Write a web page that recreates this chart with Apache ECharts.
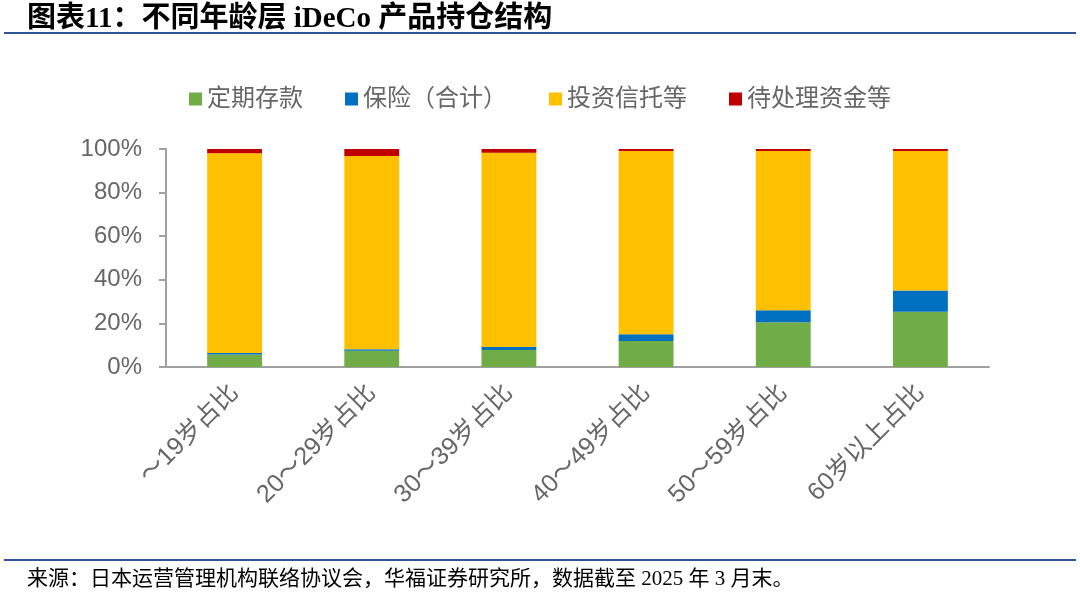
<!DOCTYPE html>
<html>
<head>
<meta charset="utf-8">
<script src="https://cdn.jsdelivr.net/npm/echarts@6/dist/echarts.min.js"></script>
<style>
  html, body { margin: 0; padding: 0; background: #fff; }
  #myChart { width: 1080px; height: 592px; }
</style>
</head>
<body>
<div id="myChart"></div>
<script>
// 年龄层
var categories = ['～19岁占比', '20～29岁占比', '30～39岁占比', '40～49岁占比', '50～59岁占比', '60岁以上占比'];
// 各产品占比（%）
var deposit = [5.7, 7.4, 7.8, 11.9, 20.5, 25.4];      // 定期存款
var insurance = [0.7, 0.7, 1.4, 3.1, 5.5, 9.7];       // 保险（合计）
var trust = [91.6, 88.7, 89.1, 84.1, 73.1, 64.0];     // 投资信托等
var pending = [2.0, 3.2, 1.7, 0.9, 0.9, 0.9];         // 待处理资金等
var seriesNames = ['定期存款', '保险（合计）', '投资信托等', '待处理资金等'];
var colors = ['#70ad47', '#0070c0', '#ffc000', '#c00000'];

var myChart = echarts.init(document.getElementById('myChart'));
var labelFont = "Arial, 'Liberation Sans', 'Noto Sans CJK SC'";

var seriesData = [deposit, insurance, trust, pending];
var series = [];
for (var i = 0; i < seriesNames.length; i++) {
    series.push({
        name: seriesNames[i],
        type: 'bar',
        stack: 'total',
        barWidth: '40%',
        itemStyle: { color: colors[i] },
        data: seriesData[i]
    });
}

var option = {
    backgroundColor: '#fff',
    animation: false,
    color: colors,
    title: [
        {
            text: '图表11：不同年龄层 iDeCo 产品持仓结构',
            left: 22,
            top: 0,
            textStyle: {
                fontFamily: "'Liberation Serif', 'Noto Sans CJK SC'",
                fontWeight: 'bold',
                fontSize: 29,
                color: '#000'
            }
        },
        {
            text: '来源：日本运营管理机构联络协议会，华福证券研究所，数据截至 2025 年 3 月末。',
            left: 22,
            top: 564,
            textStyle: {
                fontFamily: "'Liberation Serif', 'Noto Sans CJK SC'",
                fontWeight: 'normal',
                fontSize: 21,
                color: '#000'
            }
        }
    ],
    graphic: [
        { type: 'rect', shape: { x: 4, y: 32, width: 1072, height: 2 }, style: { fill: '#2f5597' } },
        { type: 'rect', shape: { x: 4, y: 559, width: 1072, height: 2 }, style: { fill: '#2f5597' } }
    ],
    legend: {
        show: true,
        left: 'center',
        top: 82,
        itemWidth: 13,
        itemHeight: 13,
        itemGap: 42,
        icon: 'rect',
        textStyle: {
            fontFamily: labelFont,
            fontSize: 24,
            color: '#666'
        },
        data: seriesNames
    },
    grid: {
        left: 166,
        right: 91,
        top: 149,
        bottom: 225
    },
    xAxis: {
        type: 'category',
        data: categories,
        axisLine: { lineStyle: { color: '#a0a0a0', width: 2 } },
        axisTick: { show: false },
        axisLabel: {
            rotate: 45,
            margin: 22,
            interval: 0,
            fontFamily: labelFont,
            fontSize: 25,
            color: '#666'
        }
    },
    yAxis: {
        type: 'value',
        min: 0,
        max: 100,
        interval: 20,
        axisLine: { show: true, lineStyle: { color: '#a0a0a0', width: 2 } },
        axisTick: { show: true, length: 7, lineStyle: { color: '#a0a0a0', width: 2 } },
        splitLine: { show: false },
        axisLabel: {
            formatter: '{value}%',
            margin: 24,
            fontFamily: labelFont,
            fontSize: 24,
            color: '#666'
        }
    },
    series: series
};
myChart.setOption(option);
</script>
</body>
</html>
